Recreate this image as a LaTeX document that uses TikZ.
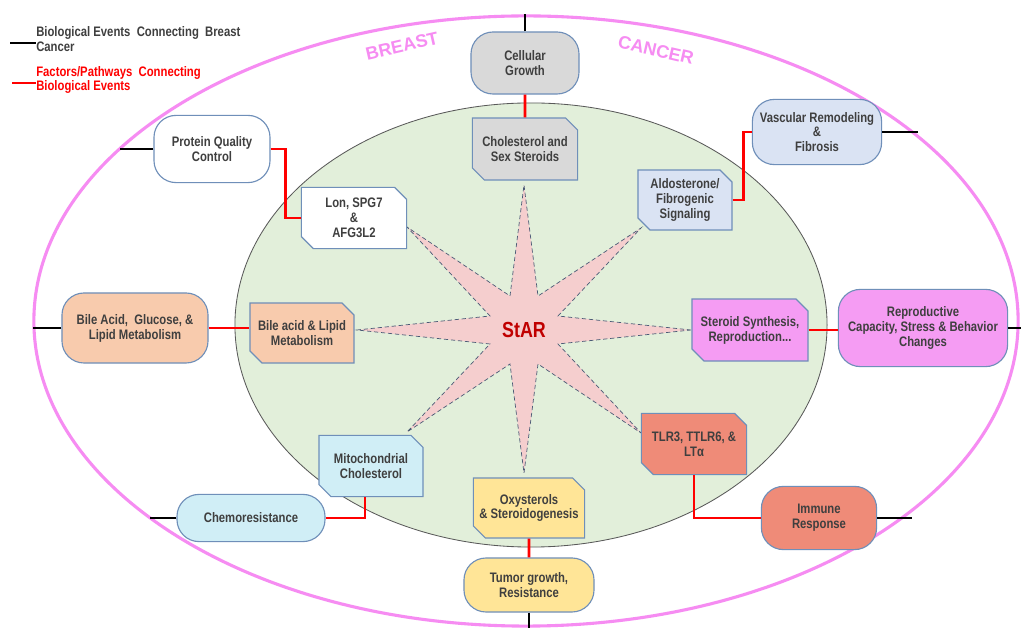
\documentclass[tikz,border=0pt]{standalone}
\usepackage{fontspec}
\setmainfont{Liberation Sans}
\newfontfamily\narrowsf[FakeStretch=0.82]{Liberation Sans}
\usepackage{tikz}
\usetikzlibrary{shapes.misc}
\definecolor{ringpink}{HTML}{F68CF2}
\definecolor{cellgreen}{HTML}{E2EFDA}
\definecolor{cellline}{HTML}{595959}
\definecolor{starfill}{HTML}{F5CECE}
\definecolor{starline}{HTML}{4A5A75}
\definecolor{starred}{HTML}{C00000}
\definecolor{boxedge}{HTML}{6F8FB9}
\definecolor{boxtext}{HTML}{3F3F3F}
\definecolor{greyfill}{HTML}{D9D9D9}
\definecolor{bluefill}{HTML}{DAE3F3}
\definecolor{peachfill}{HTML}{F8CBAD}
\definecolor{violetfill}{HTML}{F59CF3}
\definecolor{cyanfill}{HTML}{D0EEF6}
\definecolor{yellowfill}{HTML}{FFE597}
\definecolor{salmonfill}{HTML}{EF8B78}

\begin{document}
\begin{tikzpicture}[x=0.025cm, y=-0.025cm,
    boxfont/.style={font=\narrowsf\bfseries\fontsize{9.8}{10.6}\selectfont},
    outerbox/.style={boxfont, draw=boxedge, line width=0.8pt, rounded corners=0.55cm,
        align=center, inner sep=0pt, text=boxtext},
    innerbox/.style={boxfont, chamfered rectangle,
        chamfered rectangle corners={north east, south west},
        chamfered rectangle sep=0.15cm, draw=boxedge, line width=0.8pt,
        align=center, inner sep=0pt, text=boxtext},
    redlink/.style={red, line width=2pt},
    blacklink/.style={black, line width=2pt}]
        \useasboundingbox (0,0) rectangle (1021,628);
        \fill [white] (0,0) rectangle (1021,628);
        \draw [ringpink, line width=2.2pt] (526,321) ellipse [x radius=12.3cm, y radius=7.625cm];
        \filldraw [fill=cellgreen, draw=cellline, line width=0.6pt] (531,325) ellipse [x radius=7.4cm, y radius=5.55cm];
        \filldraw [fill=starfill, draw=starline, line width=0.5pt, densely dashed]
        (691,330) -- (558,316) -- (641,228) -- (538,296) -- (524,185) -- (510,296)
        -- (407,227) -- (490,316) -- (357,330) -- (490,344) -- (407,432) -- (510,364)
        -- (524,473) -- (538,364) -- (641,433) -- (558,344) -- cycle;
        \node [text=starred, font=\narrowsf\bfseries\fontsize{15.5}{17}\selectfont] (star) at (524,330) {StAR};

        \node [outerbox, fill=greyfill, minimum width=2.7cm, minimum height=1.55cm] (growth) at (525,63) {Cellular\\Growth};
        \node [innerbox, fill=greyfill, minimum width=2.63cm, minimum height=1.55cm] (chol) at (525,149) {Cholesterol and\\Sex Steroids};
        \node [outerbox, fill=bluefill, minimum width=3.23cm, minimum height=1.63cm] (vasc) at (817,132) {Vascular Remodeling\\\&\\Fibrosis};
        \node [innerbox, fill=bluefill, minimum width=2.35cm, minimum height=1.5cm] (aldo) at (685,200) {Aldosterone/\\Fibrogenic\\Signaling};
        \node [outerbox, fill=white, minimum width=2.9cm, minimum height=1.68cm] (protein) at (212,149) {Protein Quality\\Control};
        \node [innerbox, fill=white, minimum width=2.63cm, minimum height=1.53cm] (lon) at (354,218) {Lon, SPG7\\\&\\AFG3L2};
        \node [outerbox, fill=peachfill, minimum width=3.65cm, minimum height=1.75cm] (bileout) at (135,328) {Bile Acid,~ Glucose, \&\\Lipid Metabolism};
        \node [innerbox, fill=peachfill, minimum width=2.6cm, minimum height=1.5cm] (bilein) at (302,333) {Bile acid \& Lipid\\Metabolism};
        \node [innerbox, fill=violetfill, minimum width=2.9cm, minimum height=1.55cm] (steroid) at (750,330) {Steroid Synthesis,\\Reproduction...};
        \node [outerbox, fill=violetfill, minimum width=4.23cm, minimum height=1.93cm] (repro) at (923,328) {Reproductive\\Capacity, Stress \& Behavior\\Changes};
        \node [innerbox, fill=cyanfill, minimum width=2.6cm, minimum height=1.53cm] (mito) at (371,466) {Mitochondrial\\Cholesterol};
        \node [outerbox, fill=cyanfill, minimum width=3.7cm, minimum height=1.18cm] (chemo) at (251,518) {Chemoresistance};
        \node [innerbox, fill=yellowfill, minimum width=2.6cm, minimum height=1.5cm] (oxy) at (529,508) {Oxysterols\\\& Steroidogenesis};
        \node [outerbox, fill=yellowfill, minimum width=3.25cm, minimum height=1.35cm] (tumor) at (529,585) {Tumor growth,\\Resistance};
        \node [innerbox, fill=salmonfill, minimum width=2.63cm, minimum height=1.53cm] (tlr) at (694,444) {TLR3, TTLR6, \&\\LTα};
        \node [outerbox, fill=salmonfill, minimum width=2.88cm, minimum height=1.58cm] (immune) at (819,518) {Immune\\Response};

        \coordinate (growthend) at (525,14);
        \coordinate (vascend) at (918,132);
        \coordinate (proteinend) at (120,149);
        \coordinate (bileend) at (33,328);
        \coordinate (reproend) at (1021,328);
        \coordinate (chemoend) at (150,518);
        \coordinate (tumorend) at (529,628);
        \coordinate (immuneend) at (912,518);

        \draw [redlink] (growth) -- (chol);
        \draw [redlink] (aldo.east) -- ++(11,0) |- (vasc.west);
        \draw [redlink] (protein.east) -- ++(15,0) |- (lon.west);
        \draw [redlink] (bileout.east) -- (bileout.east -| bilein.west);
        \draw [redlink] (steroid.east) -- (steroid.east -| repro.west);
        \draw [redlink] ([xshift=-6*0.025cm]mito.south) |- (chemo.east);
        \draw [redlink] (oxy) -- (tumor);
        \draw [redlink] (tlr.south) |- (immune.west);

        \draw [blacklink] (growth.north) -- (growthend);
        \draw [blacklink] (vasc.east) -- (vascend);
        \draw [blacklink] (protein.west) -- (proteinend);
        \draw [blacklink] (bileout.west) -- (bileend);
        \draw [blacklink] (repro.east) -- (reproend);
        \draw [blacklink] (chemo.west) -- (chemoend);
        \draw [blacklink] (tumor.south) -- (tumorend);
        \draw [blacklink] (immune.east) -- (immuneend);

        \node [rotate=13, text=ringpink, font=\bfseries\fontsize{12.8}{14}\selectfont] (breast) at (402,46) {BREAST};
        \node [rotate=-13, text=ringpink, font=\bfseries\fontsize{12.8}{14}\selectfont] (cancer) at (656,50) {CANCER};

        \node [boxfont, text=boxtext, anchor=west, align=left, inner sep=0pt] (keyblack) at (36,39) {Biological Events~ Connecting~ Breast\\Cancer};
        \node [boxfont, text=red, anchor=west, align=left, inner sep=0pt] (keyred) at (36,80) {Factors/Pathways~ Connecting\\Biological Events};
        \coordinate (keyblackend) at (10,43);
        \coordinate (keyredend) at (12,83);
        \draw [blacklink] (keyblackend) -- (keyblackend -| keyblack.west);
        \draw [redlink] (keyredend) -- (keyredend -| keyred.west);
    \end{tikzpicture}
\end{document}
